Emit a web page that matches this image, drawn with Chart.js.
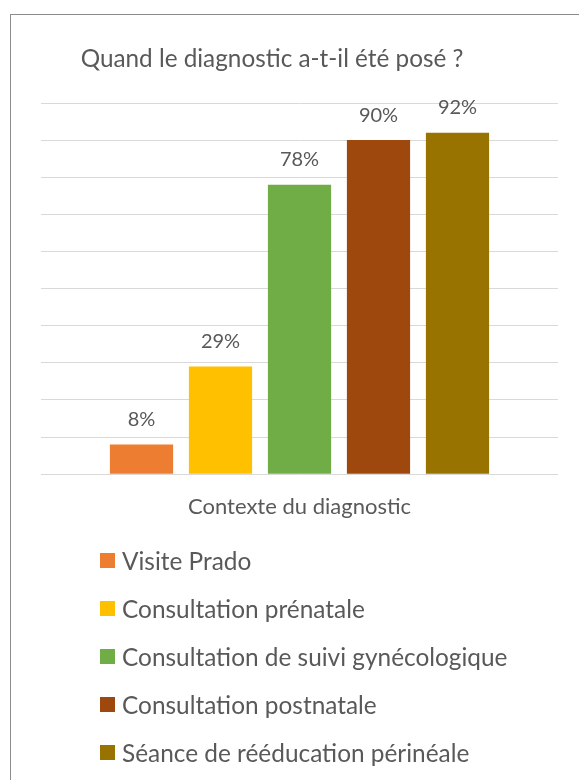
<!DOCTYPE html>
<html>
<head>
<meta charset="utf-8">
<script src="https://cdn.jsdelivr.net/npm/chart.js@4/dist/chart.umd.min.js"></script>
<style>
    html, body { margin: 0; padding: 0; background: #fff; }
    body { width: 579px; height: 780px; position: relative; overflow: hidden; font-family: Lato, sans-serif; }
    #frame { position: absolute; left: 10px; top: 14px; width: 600px; height: 800px; border: 1px solid #8c8c8c; box-sizing: border-box; }
    #title { position: absolute; left: 0; top: 43px; width: 544px; line-height: 29px; text-align: center; font-size: 24.3px; color: #595959; }
    #wrap { position: absolute; left: 0; top: 0; width: 579px; height: 540px; }
    #legend { position: absolute; left: 100px; top: 536px; margin: 0; padding: 0; list-style: none; }
    #legend li { height: 48px; display: flex; align-items: center; color: #595959; font-size: 24.4px; }
    #legend span.box { width: 15px; height: 15px; margin-right: 7px; display: inline-block; }
</style>
</head>
<body>
<div id="frame"></div>
<div id="wrap"><canvas id="chart"></canvas></div>
<div id="title"></div>
<ul id="legend"></ul>
<script>
(function () {
    'use strict';

    var TITLE = 'Quand le diagnostic a-t-il été posé ?';
    var CATEGORY = ['Contexte du diagnostic'];
    var SERIES = [
        'Visite Prado',
        'Consultation prénatale',
        'Consultation de suivi gynécologique',
        'Consultation postnatale',
        'Séance de rééducation périnéale'
    ];
    var VALUES = [8, 29, 78, 90, 92];
    var COLORS = ['#ED7D31', '#FFC000', '#70AD47', '#9E480E', '#997300'];

    var TEXT = '#595959';

    // value labels above each bar
    var barLabels = {
        id: 'barLabels',
        afterDatasetsDraw: function (chart) {
            var ctx = chart.ctx;
            ctx.save();
            ctx.font = '20px Lato';
            ctx.fillStyle = TEXT;
            ctx.textAlign = 'center';
            ctx.textBaseline = 'middle';
            chart.data.datasets.forEach(function (ds, i) {
                var meta = chart.getDatasetMeta(i);
                meta.data.forEach(function (bar, j) {
                    ctx.fillText(ds.data[j] + '%', bar.x, bar.y - 25);
                });
            });
            ctx.restore();
        }
    };

    var datasets = SERIES.map(function (name, i) {
        return {
            label: name,
            data: [VALUES[i]],
            backgroundColor: COLORS[i],
            categoryPercentage: 0.764,
            barPercentage: 0.8
        };
    });

    // title sits a bit left of the plot centre, as in the source
    document.getElementById('title').textContent = TITLE;

    var chart = new Chart(document.getElementById('chart'), {
        type: 'bar',
        data: { labels: [''], datasets: datasets },
        options: {
            responsive: true,
            maintainAspectRatio: false,
            animation: false,
            layout: { padding: { left: 41, right: 21, top: 103, bottom: 15.6 } },
            plugins: {
                legend: { display: false },
                tooltip: { enabled: false },
                title: { display: false }
            },
            scales: {
                x: {
                    grid: { display: false },
                    border: { display: false },
                    ticks: { display: false },
                    title: {
                        display: true,
                        text: CATEGORY[0],
                        color: TEXT,
                        font: { family: 'Lato', size: 22 },
                        padding: { top: 11.8, bottom: 4 }
                    }
                },
                y: {
                    min: 0,
                    max: 100,
                    ticks: { display: false, stepSize: 10 },
                    grid: { color: '#D9D9D9', lineWidth: 1, drawTicks: false },
                    border: { display: false }
                }
            }
        },
        plugins: [barLabels]
    });

    var ul = document.getElementById('legend');
    SERIES.forEach(function (name, i) {
        var li = document.createElement('li');
        var box = document.createElement('span');
        box.className = 'box';
        box.style.background = COLORS[i];
        li.appendChild(box);
        li.appendChild(document.createTextNode(name));
        ul.appendChild(li);
    });
}());
</script>
</body>
</html>
